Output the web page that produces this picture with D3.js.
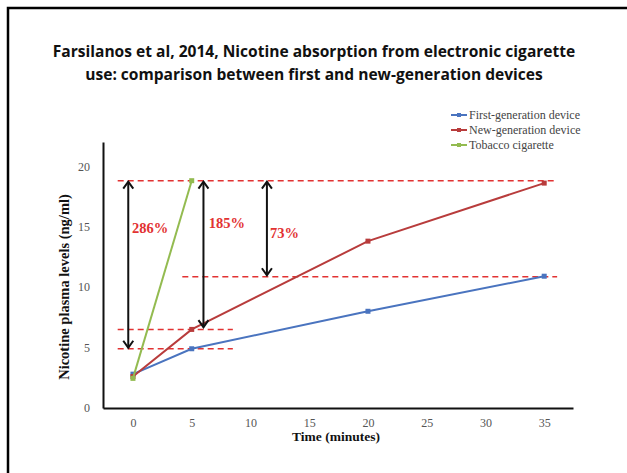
<!DOCTYPE html>
<html><head><meta charset="utf-8">
<script src="https://cdn.jsdelivr.net/npm/d3@7"></script>
<style>body{margin:0;background:#fff;overflow:hidden;}svg{display:block;}</style>
</head><body>
<svg id="c" width="627" height="473"></svg>
<script>
const titleLines = ["Farsilanos et al, 2014, Nicotine absorption from electronic cigarette",
                    "use: comparison between first and new-generation devices"];
const times = [0, 5, 20, 35];
const firstGen = [2.8, 4.9, 8.0, 10.9];
const newGen = [2.6, 6.5, 13.8, 18.6];
const tobaccoTimes = [0, 5];
const tobacco = [2.45, 18.8];
const seriesNames = ["First-generation device", "New-generation device", "Tobacco cigarette"];
const xTicks = [0, 5, 10, 15, 20, 25, 30, 35];
const yTicks = [0, 5, 10, 15, 20];
// reference (dashed) levels: [level, fromX, toX]
const refLevels = [[18.8, -1.3, 36.1], [10.85, 4.2, 36.1], [6.5, -1.3, 8.5], [4.9, -1.3, 8.5]];
// double arrows: [x, top, bottom]
const arrows = [[-0.4, 18.8, 4.9], [6.0, 18.8, 6.6], [11.4, 18.8, 10.9]];
// percent labels: [text, x, y]
const pctLabels = [["286%", 1.45, 14.9], ["185%", 8.0, 15.3], ["73%", 12.9, 14.5]];

const colors = ["#4a74bf", "#b83c3c", "#93bb50"];
const svg = d3.select("#c");

// frame (top and left edges visible)
svg.append("path").attr("d", "M8,480V8H640").attr("fill", "none")
  .attr("stroke", "#000").attr("stroke-width", 2.5);

// title
const tg = svg.append("g");
titleLines.forEach((t, i) => {
  tg.append("text").attr("x", 314).attr("y", 57 + i * 23)
    .attr("text-anchor", "middle").attr("font-family", "Open Sans, sans-serif")
    .attr("font-weight", "bold").attr("font-size", 15).attr("fill", "#111").text(t);
});
{
  const first = tg.select("text").node();
  const w = first.getComputedTextLength();
  const fs = 15 * 523 / w;
  tg.selectAll("text").attr("font-size", fs);
}

const x = d3.scaleLinear().domain([-2.55, 37.45]).range([103, 573]);
const y = d3.scaleLinear().domain([0, 22]).range([408, 142]);

const serif = "Liberation Serif, Times New Roman, serif";
const xAxis = svg.append("g").attr("transform", "translate(0,408)")
  .call(d3.axisBottom(x).tickValues(xTicks).tickSize(0).tickPadding(10));
const yAxis = svg.append("g").attr("transform", "translate(103,0)")
  .call(d3.axisLeft(y).tickValues(yTicks).tickSize(0).tickPadding(13));
[xAxis, yAxis].forEach(a => {
  a.select(".domain").attr("stroke", "#111").attr("stroke-width", 2);
  a.selectAll("text").attr("font-family", serif).attr("font-size", 12).attr("fill", "#555");
});

svg.append("text").attr("x", 336).attr("y", 441).attr("text-anchor", "middle")
  .attr("font-family", serif).attr("font-weight", "bold").attr("font-size", 13.5)
  .attr("fill", "#111").text("Time (minutes)");
svg.append("text").attr("transform", "translate(69,287) rotate(-90)").attr("text-anchor", "middle")
  .attr("font-family", serif).attr("font-weight", "bold").attr("font-size", 14.5)
  .attr("fill", "#111").text("Nicotine plasma levels (ng/ml)");

svg.append("g").selectAll("line").data(refLevels).join("line")
  .attr("x1", d => x(d[1])).attr("x2", d => x(d[2]))
  .attr("y1", d => y(d[0])).attr("y2", d => y(d[0]))
  .attr("stroke", "#e23232").attr("stroke-width", 1.5).attr("stroke-dasharray", "6,4");

const series = [
  {xs: times, ys: firstGen, c: colors[0]},
  {xs: times, ys: newGen, c: colors[1]},
  {xs: tobaccoTimes, ys: tobacco, c: colors[2]}
];
const line = d3.line().x(d => x(d[0])).y(d => y(d[1]));
series.forEach(s => {
  const pts = s.xs.map((t, i) => [t, s.ys[i]]);
  svg.append("path").datum(pts).attr("d", line).attr("fill", "none")
    .attr("stroke", s.c).attr("stroke-width", 2);
  svg.append("g").selectAll("rect").data(pts).join("rect")
    .attr("x", d => x(d[0]) - 2.5).attr("y", d => y(d[1]) - 2.5)
    .attr("width", 5).attr("height", 5).attr("fill", s.c);
});

const ag = svg.append("g").attr("stroke", "#111").attr("stroke-width", 2).attr("fill", "none");
arrows.forEach(a => {
  const ax = x(a[0]), y1 = y(a[1]) + 1, y2 = y(a[2]) - 1;
  ag.append("line").attr("x1", ax).attr("x2", ax).attr("y1", y1).attr("y2", y2);
  ag.append("path").attr("d", `M${ax - 5},${y1 + 7}L${ax},${y1}L${ax + 5},${y1 + 7}`);
  ag.append("path").attr("d", `M${ax - 5},${y2 - 7}L${ax},${y2}L${ax + 5},${y2 - 7}`);
});

svg.append("g").selectAll("text").data(pctLabels).join("text")
  .attr("x", d => x(d[1])).attr("y", d => y(d[2]) + 5).attr("text-anchor", "middle")
  .attr("font-family", serif).attr("font-weight", "bold").attr("font-size", 14.5)
  .attr("fill", "#e23232").text(d => d[0]);

const lg = svg.append("g");
seriesNames.forEach((n, i) => {
  const ly = 115 + i * 15;
  lg.append("line").attr("x1", 451).attr("x2", 467).attr("y1", ly).attr("y2", ly)
    .attr("stroke", colors[i]).attr("stroke-width", 2);
  lg.append("rect").attr("x", 457).attr("y", ly - 2).attr("width", 4).attr("height", 4).attr("fill", colors[i]);
  lg.append("text").attr("x", 469).attr("y", ly + 4).attr("font-family", serif)
    .attr("font-size", 12).attr("fill", "#444").text(n);
});
</script>
</body></html>
